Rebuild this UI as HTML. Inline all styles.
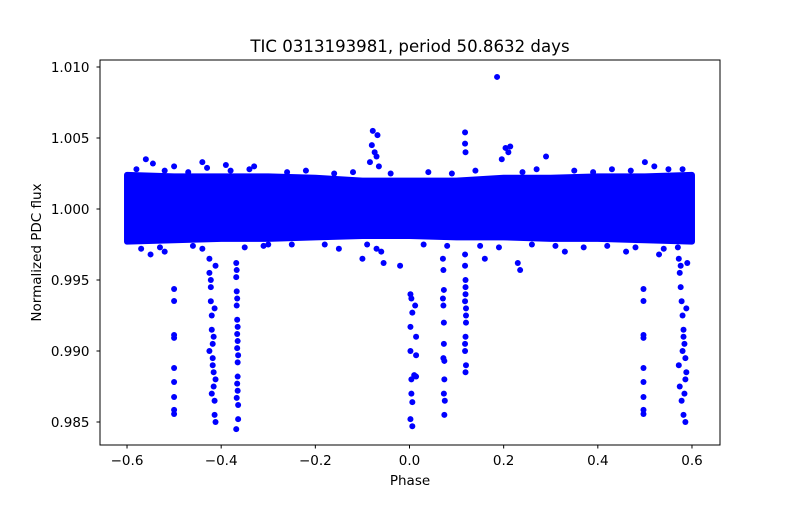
<!DOCTYPE html>
<html><head><meta charset="utf-8"><style>
body{margin:0;background:#fff}
svg text{font-family:"DejaVu Sans","Liberation Sans",sans-serif;fill:#000}
</style></head><body>
<svg id="chart" width="800" height="500" viewBox="0 0 800 500">
<rect width="800" height="500" fill="#fff"/>
<text x="410" y="52" font-size="16.6" text-anchor="middle">TIC 0313193981, period 50.8632 days</text>
<g id="marks"></g>
<rect x="100" y="60" width="620" height="385" fill="none" stroke="#000" stroke-width="1"/>
<g id="xt"></g>
<g id="yt"></g>
<text x="410" y="485" font-size="13.5" text-anchor="middle">Phase</text>
<text transform="translate(41,252.5) rotate(-90)" font-size="13.5" text-anchor="middle">Normalized PDC flux</text>
</svg>
<script>
const xTicks=[-0.6,-0.4,-0.2,0,0.2,0.4,0.6];
const yTicks=[0.985,0.990,0.995,1.000,1.005,1.010];
const bandPhase=[-0.6,-0.5,-0.4,-0.3,-0.2,-0.1,0,0.1,0.2,0.3,0.4,0.5,0.6];
const bandUpper=[1.0024,1.0023,1.0023,1.0023,1.0022,1.0020,1.0020,1.0020,1.0022,1.0022,1.0023,1.0023,1.0024];
const bandLower=[0.9977,0.9978,0.9979,0.9979,0.9980,0.9981,0.9981,0.9980,0.9980,0.9979,0.9979,0.9978,0.9977];
const dipPhase=[-0.500,-0.500,-0.500,-0.500,-0.500,-0.500,-0.500,-0.500,-0.500,
-0.425,-0.425,-0.422,-0.422,-0.420,-0.420,-0.418,-0.418,-0.416,-0.416,-0.414,-0.414,-0.412,-0.412,-0.425,-0.420,-0.414,-0.418,-0.416,-0.412,-0.422,
-0.368,-0.368,-0.367,-0.367,-0.366,-0.366,-0.366,-0.365,-0.365,-0.365,-0.364,-0.364,-0.368,-0.367,-0.366,-0.365,-0.364,-0.366,-0.367,-0.365,
0.002,0.004,0.006,0.002,0.002,0.010,0.004,0.004,0.006,0.002,0.006,0.012,0.014,0.014,0.014,
0.071,0.072,0.071,0.072,0.073,0.073,0.074,0.074,0.072,0.073,0.075,0.074,0.073,
0.118,0.118,0.119,0.119,0.120,0.120,0.119,0.118,0.120,0.119,0.118,0.120,0.119,0.118,
0.497,0.497,0.497,0.497,0.497,0.497,0.497,0.497,0.497,
0.572,0.574,0.576,0.578,0.580,0.582,0.584,0.586,0.588,0.574,0.578,0.582,0.586,0.576,0.580,0.584,0.588,0.572,0.582,0.586];
const dipFlux=[0.99437,0.99352,0.99113,0.99092,0.98880,0.98782,0.98676,0.98585,0.98556,
0.9965,0.9955,0.9945,0.9935,0.9925,0.9915,0.9905,0.9895,0.9885,0.9875,0.9865,0.9855,0.9850,0.9960,0.9900,0.9870,0.9930,0.9890,0.9910,0.9880,0.9950,
0.9962,0.9952,0.9942,0.9932,0.9922,0.9912,0.9902,0.9892,0.9882,0.9872,0.9862,0.9852,0.9845,0.9957,0.9937,0.9917,0.9897,0.9877,0.9867,0.9907,
0.9940,0.9937,0.9927,0.9917,0.9900,0.9883,0.9880,0.9870,0.9864,0.9852,0.9847,0.9932,0.9910,0.9897,0.9882,
0.9965,0.9957,0.9937,0.9932,0.9920,0.9905,0.9893,0.9880,0.9895,0.9870,0.9865,0.9855,0.9943,
0.9968,0.9960,0.9950,0.9940,0.9930,0.9920,0.9910,0.9900,0.9890,0.9885,0.9905,0.9925,0.9945,0.9935,
0.99437,0.99352,0.99113,0.99092,0.98880,0.98782,0.98676,0.98585,0.98556,
0.9965,0.9955,0.9945,0.9935,0.9925,0.9915,0.9905,0.9895,0.9885,0.9875,0.9865,0.9855,0.9850,0.9960,0.9900,0.9870,0.9930,0.9890,0.9910,0.9880];
const outPhase=[0.186,-0.078,-0.068,-0.080,-0.074,-0.070,-0.084,-0.065,0.118,0.118,0.119,0.204,0.210,0.214,0.196,0.290,-0.560,-0.545,-0.500,-0.440,-0.390,-0.330,0.500,0.520,0.580,-0.100,-0.020,-0.060,-0.055,0.230,0.235,0.160,-0.550,-0.520,-0.300,-0.150,0.330,0.460,0.530,0.590,
-0.58,-0.52,-0.47,-0.43,-0.38,-0.34,-0.26,-0.22,-0.16,-0.12,-0.04,0.04,0.09,0.14,0.24,0.27,0.35,0.39,0.43,0.47,0.55,
-0.57,-0.53,-0.46,-0.44,-0.35,-0.31,-0.25,-0.18,-0.09,-0.07,0.03,0.08,0.15,0.19,0.26,0.31,0.37,0.42,0.48,0.54,0.57];
const outFlux=[1.0093,1.0055,1.0052,1.0045,1.0040,1.0037,1.0033,1.0030,1.0054,1.0046,1.0040,1.0043,1.0040,1.0044,1.0035,1.0037,1.0035,1.0032,1.0030,1.0033,1.0031,1.0030,1.0033,1.0030,1.0028,0.9965,0.9960,0.9970,0.9962,0.9962,0.9957,0.9965,0.9968,0.9970,0.9975,0.9972,0.9970,0.9970,0.9968,0.9962,
1.0028,1.0027,1.0026,1.0029,1.0027,1.0028,1.0026,1.0027,1.0025,1.0026,1.0025,1.0026,1.0025,1.0027,1.0026,1.0028,1.0027,1.0026,1.0028,1.0027,1.0028,
0.9972,0.9973,0.9974,0.9972,0.9973,0.9974,0.9975,0.9975,0.9975,0.9972,0.9975,0.9974,0.9974,0.9973,0.9975,0.9974,0.9973,0.9974,0.9973,0.9972,0.9973];
const X=p=>409.5+p*470.8, Y=f=>209-(f-1)*14200;
const NS="http://www.w3.org/2000/svg";
const marks=document.getElementById('marks');
let d="M"+X(bandPhase[0])+","+Y(bandUpper[0]);
for(let i=1;i<bandPhase.length;i++)d+=" L"+X(bandPhase[i])+","+Y(bandUpper[i]);
for(let i=bandPhase.length-1;i>=0;i--)d+=" L"+X(bandPhase[i])+","+Y(bandLower[i]);
d+=" Z";
const band=document.createElementNS(NS,'path');
band.setAttribute('d',d);band.setAttribute('fill','#0000ff');band.setAttribute('stroke','#0000ff');band.setAttribute('stroke-width','6');band.setAttribute('stroke-linejoin','round');


marks.appendChild(band);
function dot(p,f){const c=document.createElementNS(NS,'circle');c.setAttribute('cx',X(p));c.setAttribute('cy',Y(f));c.setAttribute('r',3);c.setAttribute('fill','#0000ff');


marks.appendChild(c);}
dipPhase.forEach((p,i)=>dot(p,dipFlux[i]));
outPhase.forEach((p,i)=>dot(p,outFlux[i]));
const xt=document.getElementById('xt'),yt=document.getElementById('yt');
xTicks.forEach(t=>{const x=X(t);
const l=document.createElementNS(NS,'line');l.setAttribute('x1',x);l.setAttribute('x2',x);l.setAttribute('y1',445);l.setAttribute('y2',448.5);l.setAttribute('stroke','#000');


xt.appendChild(l);
const tx=document.createElementNS(NS,'text');tx.setAttribute('x',x);tx.setAttribute('y',465);tx.setAttribute('font-size','13.5');tx.setAttribute('text-anchor','middle');
tx.textContent=(t<0?"\u2212":"")+Math.abs(t).toFixed(1);


xt.appendChild(tx);});
yTicks.forEach(t=>{const y=Y(t);
const l=document.createElementNS(NS,'line');l.setAttribute('x1',96.5);l.setAttribute('x2',100);l.setAttribute('y1',y);l.setAttribute('y2',y);l.setAttribute('stroke','#000');


yt.appendChild(l);
const tx=document.createElementNS(NS,'text');tx.setAttribute('x',89.5);tx.setAttribute('y',y+5);tx.setAttribute('font-size','13.5');tx.setAttribute('text-anchor','end');
tx.textContent=t.toFixed(3);


yt.appendChild(tx);});
</script>
</body></html>
